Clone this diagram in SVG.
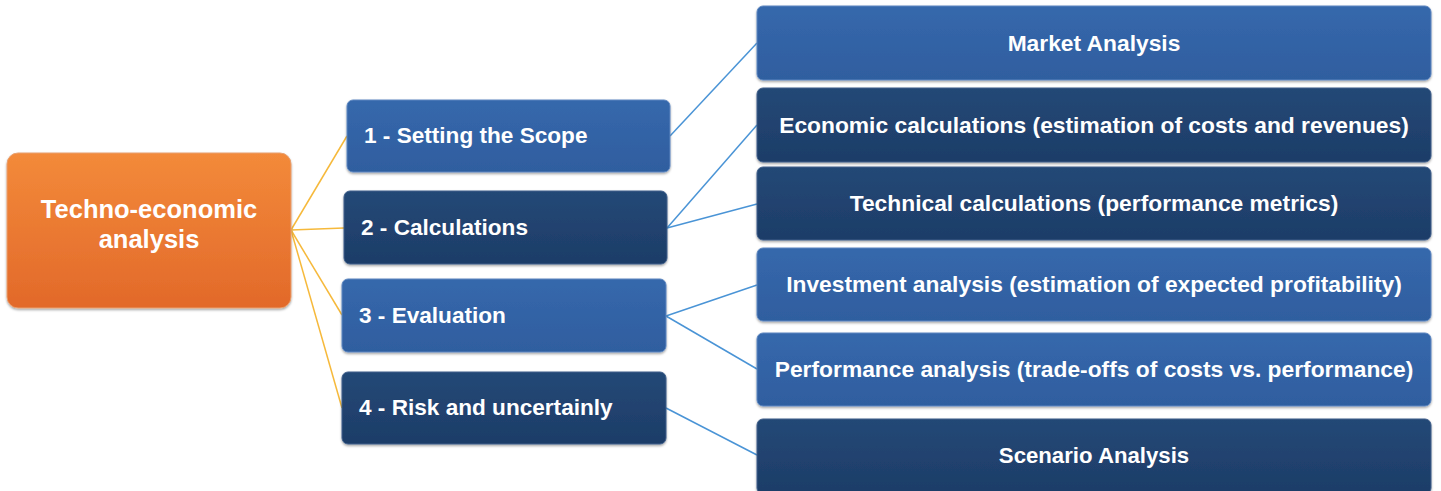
<svg xmlns="http://www.w3.org/2000/svg" width="1441" height="491" viewBox="0 0 1441 491">
<defs>
<linearGradient id="gOrange" x1="0" y1="0" x2="0" y2="1">
<stop offset="0" stop-color="#F38A3A"/>
<stop offset="1" stop-color="#E2692A"/>
</linearGradient>
<linearGradient id="gMid" x1="0" y1="0" x2="0" y2="1">
<stop offset="0" stop-color="#3668AC"/>
<stop offset="1" stop-color="#2F5E9F"/>
</linearGradient>
<linearGradient id="gDark" x1="0" y1="0" x2="0" y2="1">
<stop offset="0" stop-color="#244876"/>
<stop offset="1" stop-color="#1D3D68"/>
</linearGradient>
<filter id="sh" x="-5%" y="-10%" width="110%" height="125%">
<feDropShadow dx="0" dy="1.5" stdDeviation="1.2" flood-color="#000" flood-opacity="0.35"/>
</filter>
</defs>
<style>
.root{fill:url(#gOrange);stroke:#E8A070;stroke-width:1;filter:url(#sh)}
.mid{fill:url(#gMid);stroke:#5C86C0;stroke-width:1;filter:url(#sh)}
.dark{fill:url(#gDark);stroke:#3E5E8A;stroke-width:1;filter:url(#sh)}
.t{font-family:"Liberation Sans",Arial,sans-serif;font-weight:bold;fill:#fff}
.t0{font-size:25.5px;text-anchor:middle}
.t1{font-size:22.6px}
.t2{font-size:22.8px;text-anchor:middle}
.t3{font-size:22.2px;text-anchor:middle}
.cy{stroke:#F6B93B;stroke-width:1.5;fill:none}
.cb{stroke:#4A94D6;stroke-width:1.5;fill:none}
</style>
<rect width="1441" height="491" fill="#fff"/>
<g id="connectors">
<line class="cy" x1="291" y1="230" x2="347" y2="136"/>
<line class="cy" x1="291" y1="230" x2="344" y2="228"/>
<line class="cy" x1="291" y1="230" x2="342" y2="315"/>
<line class="cy" x1="291" y1="230" x2="342" y2="408"/>
<line class="cb" x1="670" y1="136" x2="757" y2="43"/>
<line class="cb" x1="667" y1="228" x2="757" y2="125"/>
<line class="cb" x1="667" y1="228" x2="757" y2="204"/>
<line class="cb" x1="666" y1="316" x2="757" y2="285"/>
<line class="cb" x1="666" y1="316" x2="757" y2="369"/>
<line class="cb" x1="666" y1="408" x2="757" y2="455"/>
</g>
<g id="root">
<rect class="root" x="7" y="153" width="284" height="155" rx="11"/>
<text class="t t0" x="149" y="218">Techno-economic</text>
<text class="t t0" x="149" y="248">analysis</text>
</g>
<g id="n1">
<rect class="mid" x="347" y="100" width="323" height="72" rx="6"/>
<text class="t t1" x="364" y="143">1 - Setting the Scope</text>
</g>
<g id="n2">
<rect class="dark" x="344" y="191" width="323" height="73" rx="6"/>
<text class="t t1" x="361" y="235">2 - Calculations</text>
</g>
<g id="n3">
<rect class="mid" x="342" y="279" width="324" height="73" rx="6"/>
<text class="t t1" x="359" y="323">3 - Evaluation</text>
</g>
<g id="n4">
<rect class="dark" x="342" y="372" width="324" height="72" rx="6"/>
<text class="t t1" x="359" y="415">4 - Risk and uncertainly</text>
</g>
<g id="market">
<rect class="mid" x="757" y="6" width="674" height="74" rx="6"/>
<text class="t t2" x="1094" y="51">Market Analysis</text>
</g>
<g id="economic">
<rect class="dark" x="757" y="88" width="674" height="74" rx="6"/>
<text class="t t2" x="1094" y="132.5">Economic calculations (estimation of costs and revenues)</text>
</g>
<g id="technical">
<rect class="dark" x="757" y="167" width="674" height="73" rx="6"/>
<text class="t t2" x="1094" y="211">Technical calculations (performance metrics)</text>
</g>
<g id="investment">
<rect class="mid" x="757" y="248" width="674" height="73" rx="6"/>
<text class="t t2" x="1094" y="292">Investment analysis (estimation of expected profitability)</text>
</g>
<g id="performance">
<rect class="mid" x="757" y="333" width="674" height="73" rx="6"/>
<text class="t t2" x="1094" y="377">Performance analysis (trade-offs of costs vs. performance)</text>
</g>
<g id="scenario">
<rect class="dark" x="757" y="419" width="674" height="75" rx="6"/>
<text class="t t3" x="1094" y="463">Scenario Analysis</text>
</g>
</svg>
